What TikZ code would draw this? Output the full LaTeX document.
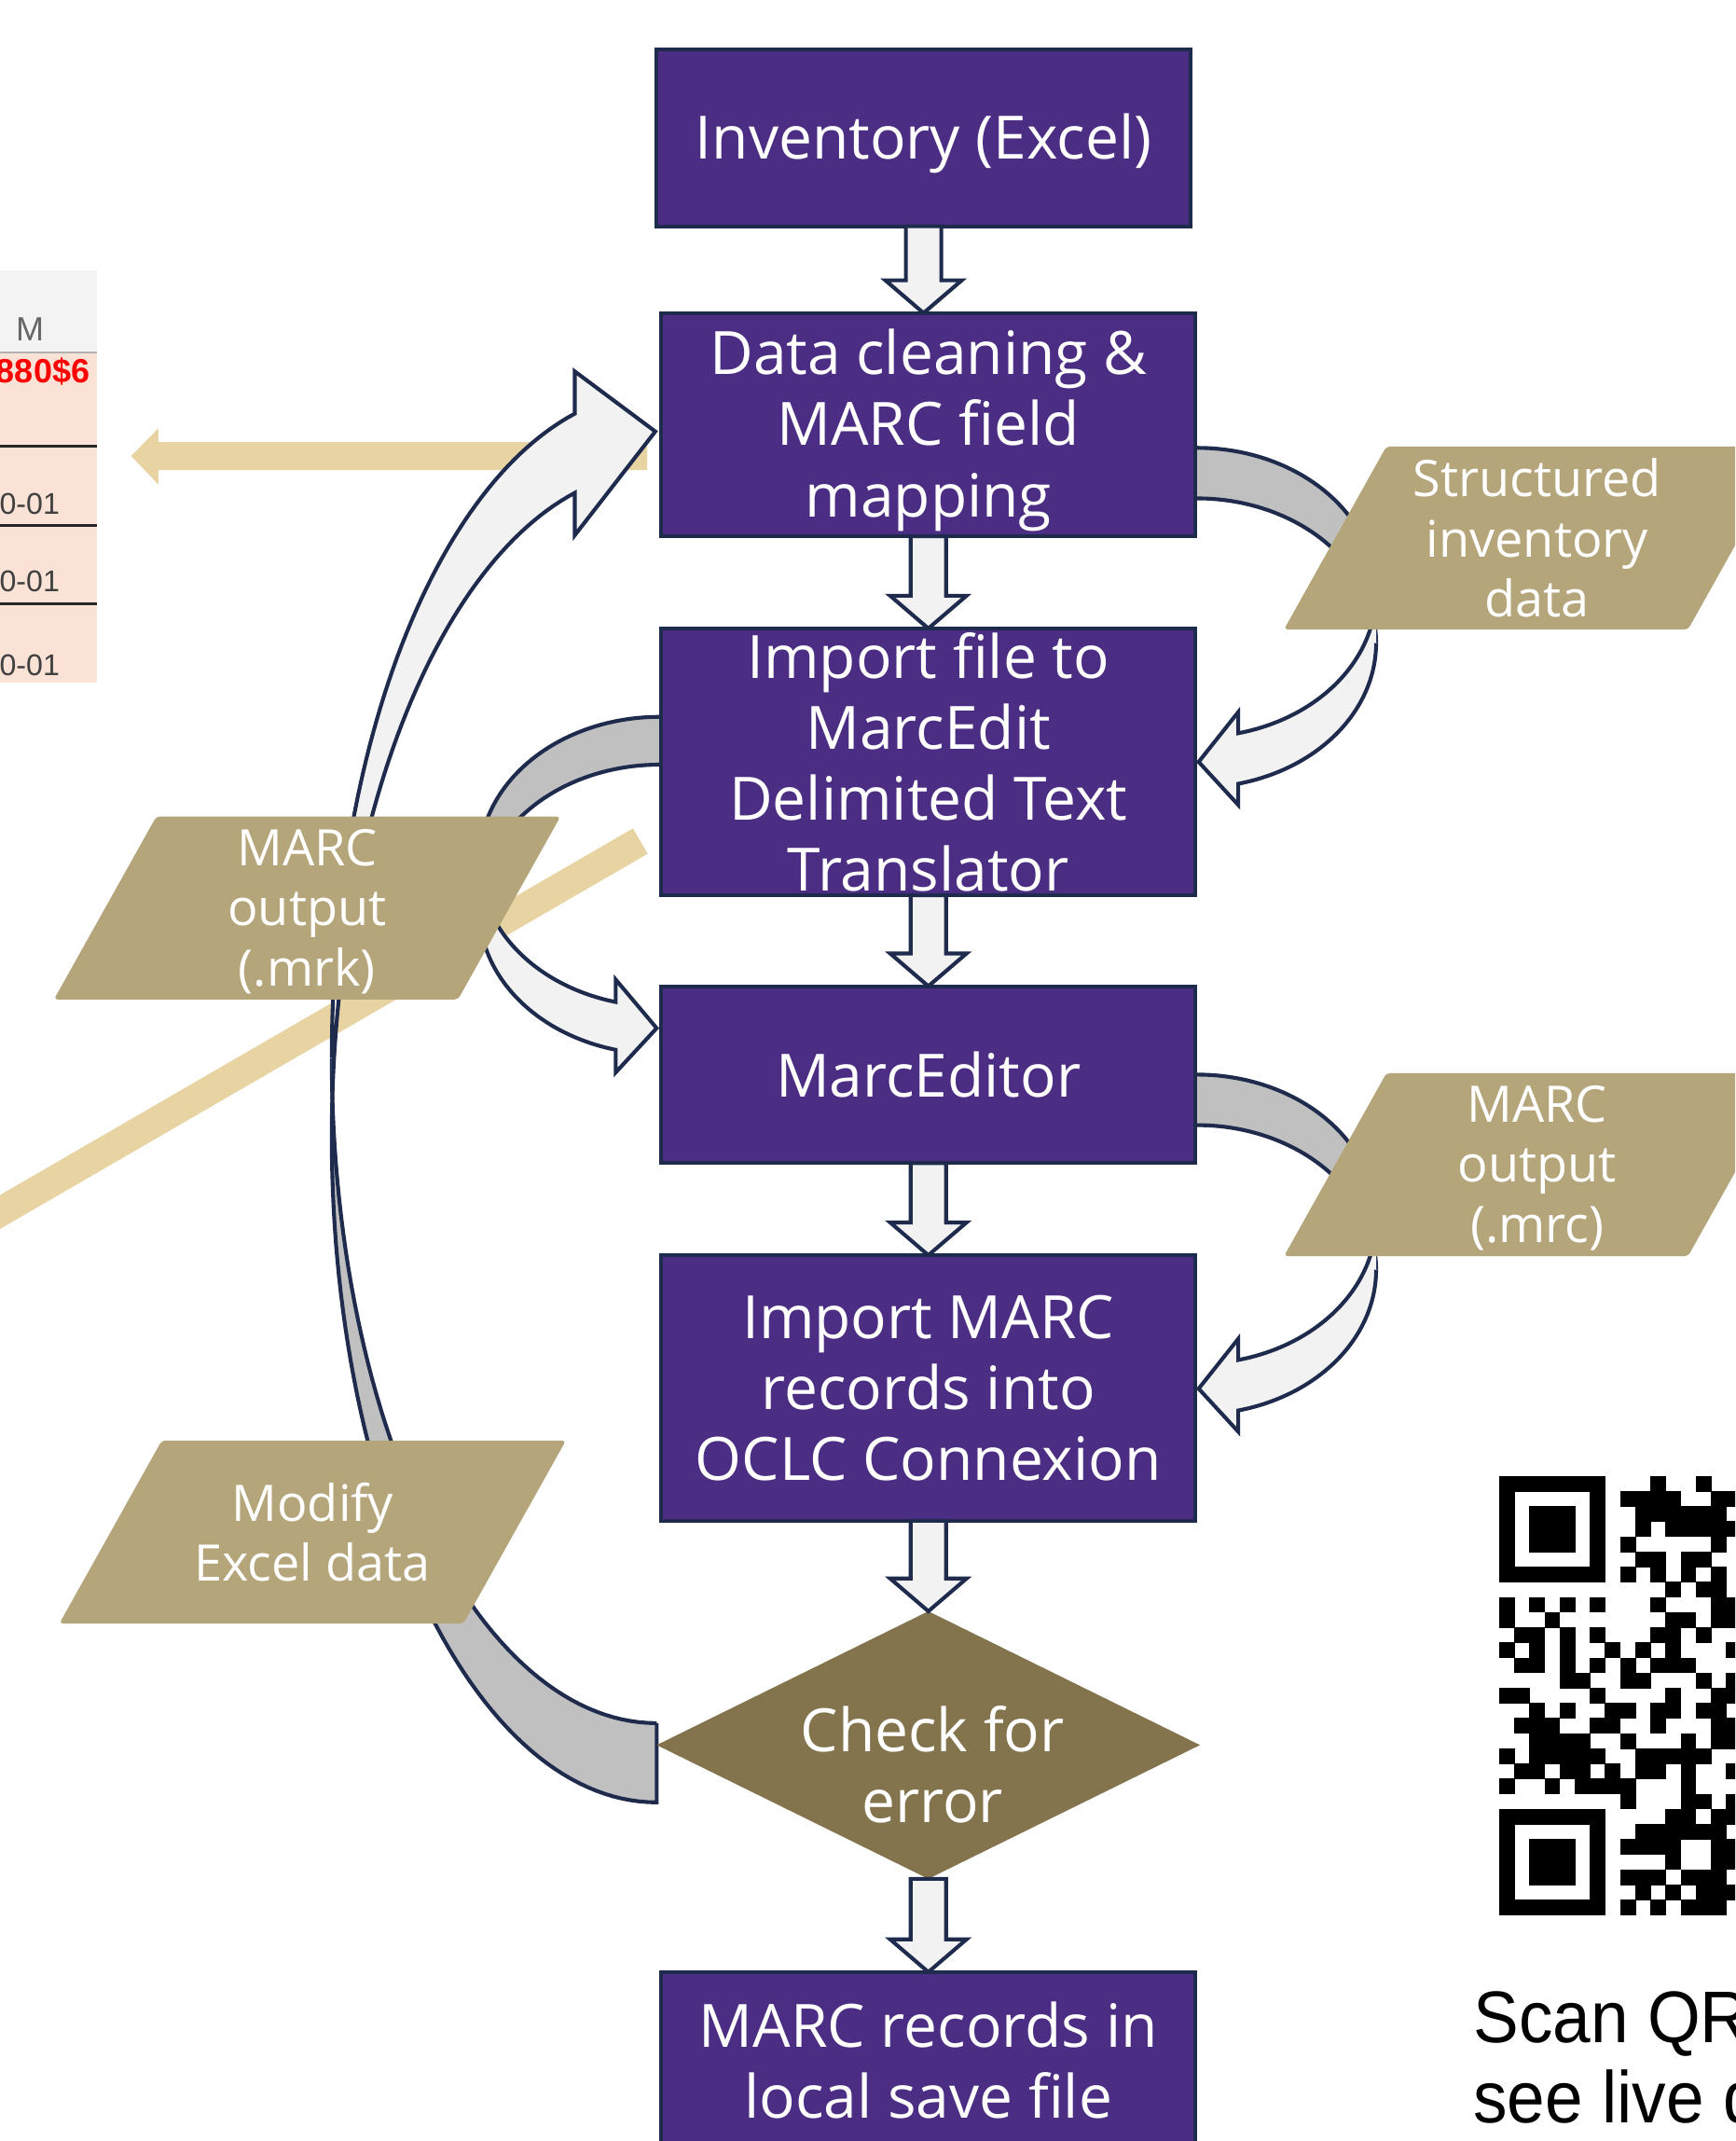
\documentclass[tikz,border=0pt]{standalone}
\usepackage{fontspec}
\setmainfont{Open Sans}
\newfontfamily\arialfont{Liberation Sans}
\usetikzlibrary{calc,shapes.geometric}

\definecolor{uwpurple}{HTML}{4B2E83}
\definecolor{navy}{HTML}{1E2B4D}
\definecolor{gold}{HTML}{B5A57A}
\definecolor{darkgold}{HTML}{84744D}
\definecolor{lighttan}{HTML}{E8D4A2}
\definecolor{arrowfill}{HTML}{F2F2F2}
\definecolor{backfill}{HTML}{C0C0C0}
\definecolor{xlpink}{HTML}{FBE2D6}
\definecolor{xlhead}{HTML}{F3F3F3}

\tikzset{
  box/.style={draw=navy, line width=1.6pt, fill=uwpurple, minimum width=7.83cm, inner sep=0pt, outer sep=0pt},
  boxtext/.style={text=white, font=\fontsize{24.9}{29.6}\selectfont, align=center, inner sep=0pt},
  ptext/.style={text=white, font=\fontsize{21}{25}\selectfont, align=center, inner sep=0pt},
  blockarrow/.style={draw=navy, line width=1.6pt, fill=arrowfill, line join=miter},
  curveline/.style={draw=navy, line width=1.6pt, line join=miter},
  pgram/.style={fill=gold, rounded corners=1.5pt},
  xltext/.style={font=\arialfont\fontsize{12.5}{15}\selectfont, inner sep=0pt},
  captext/.style={font=\arialfont\fontsize{30.5}{33}\selectfont, anchor=base west, inner sep=0pt},
}

% single elliptical arc: cx, cy, rx, ry, start, end
\newcommand{\arcA}[6]{plot[domain=#5:#6,samples=60,variable=\t]({#1+#3*cos(\t)},{#2+#4*sin(\t)})}
% back band between two arcs: cx, yA, rx, ry, start, end, yB
\newcommand{\backpath}[7]{plot[domain=#5:#6,samples=60,variable=\t]({#1+#3*cos(\t)},{#2+#4*sin(\t)}) -- plot[domain=#6:#5,samples=60,variable=\t]({#1+#3*cos(\t)},{#7+#4*sin(\t)}) -- cycle}
% front band with head: cx, yA, rx, ry, start, end, yB, head points
\newcommand{\frontpath}[8]{plot[domain=#5:#6,samples=60,variable=\t]({#1+#3*cos(\t)},{#2+#4*sin(\t)}) #8 -- plot[domain=#6:#5,samples=60,variable=\t]({#1+#3*cos(\t)},{#7+#4*sin(\t)})}

% straight block arrow from bottom of #1 to top of #2
\newcommand{\vblock}[2]{%
  \coordinate (tmpA) at (#1.south);
  \coordinate (tmpB) at (#1.south|-#2.north);
  \draw[blockarrow] ($(tmpA)+(-13,0)$) -- ($(tmpB)+(-13,-24)$) -- ($(tmpB)+(-28,-24)$) -- (tmpB)
     -- ($(tmpB)+(28,-24)$) -- ($(tmpB)+(13,-24)$) -- ($(tmpA)+(13,0)$) -- cycle;
}

% parallelogram around a centre coordinate
\newcommand{\pgramat}[2]{%
  \coordinate (#1c) at #2;
  \fill[pgram] ($(#1c)+(-110.5,-67)$) -- ($(#1c)+(185.5,-67)$) -- ($(#1c)+(110.5,67)$) -- ($(#1c)+(-185.5,67)$) -- cycle;
}

\begin{document}
\begin{tikzpicture}[x=0.02cm,y=-0.02cm]
\useasboundingbox (0,0) rectangle (1271,1568);
\clip (0,0) rectangle (1271,1568);
\fill[white] (0,0) rectangle (1271,1568);

% ---------- spreadsheet fragment ----------
\fill[xlhead] (0,198) rectangle (71,258);
\fill[xlpink] (0,258) rectangle (71,500);
\draw[black!30, line width=0.8pt] (0,258) -- (71,258);
\draw[black!85, line width=1.1pt] (0,327) -- (71,327);
\draw[black!85, line width=1.1pt] (0,385) -- (71,385);
\draw[black!85, line width=1.1pt] (0,442) -- (71,442);
\node[xltext, text=black!60, font=\arialfont\fontsize{14}{16}\selectfont] (xlM) at (22,241) {M};
\node[xltext, text=red, font=\arialfont\bfseries\fontsize{14}{16}\selectfont, anchor=east] (xlA) at (66,272) {880\$6};
\node[xltext, text=black!75, anchor=east] (xlB) at (44,369) {0-01};
\node[xltext, text=black!75, anchor=east] (xlC) at (44,426) {0-01};
\node[xltext, text=black!75, anchor=east] (xlD) at (44,487) {0-01};

% ---------- light tan pointer arrow and bar ----------
\fill[lighttan] (474,323.8) -- (116,323.8) -- (116,313.7) -- (96,334) -- (116,354.8) -- (116,344.3) -- (474,344.3) -- cycle;
\draw[lighttan, line width=0.43cm] (469,616) -- (-30,905);

% ---------- curved arrows ----------
% C1: data cleaning -> structured data -> import file
\fill[backfill] \backpath{877}{433.9}{131}{105.9}{270}{360}{470.9};
\draw[curveline] \arcA{877}{433.9}{131}{105.9}{270}{360};
\draw[curveline] \arcA{877}{470.9}{131}{105.9}{270}{360};
\fill[arrowfill] \frontpath{877}{433.9}{131}{105.9}{0}{76.76}{470.9}{-- (907,521.5) -- (878,558) -- (907,589.5)} -- cycle;
\draw[curveline] \frontpath{877}{433.9}{131}{105.9}{0}{76.76}{470.9}{-- (907,521.5) -- (878,558) -- (907,589.5)};

% C2: marceditor -> .mrc -> import marc records
\fill[backfill] \backpath{877}{892.9}{131}{105.9}{270}{360}{929.9};
\draw[curveline] \arcA{877}{892.9}{131}{105.9}{270}{360};
\draw[curveline] \arcA{877}{929.9}{131}{105.9}{270}{360};
\fill[arrowfill] \frontpath{877}{892.9}{131}{105.9}{0}{76.76}{929.9}{-- (907,980.5) -- (878,1017) -- (907,1048.5)} -- cycle;
\draw[curveline] \frontpath{877}{892.9}{131}{105.9}{0}{76.76}{929.9}{-- (907,980.5) -- (878,1017) -- (907,1048.5)};

% C3: import file -> .mrk -> marceditor
\fill[backfill] \backpath{483}{631}{132}{106}{270}{180}{666};
\draw[curveline] \arcA{483}{631}{132}{106}{270}{180};
\draw[curveline] \arcA{483}{666}{132}{106}{270}{180};
\fill[arrowfill] \frontpath{483}{631}{132}{106}{180}{104.03}{666}{-- (451,717.4) -- (481,753) -- (451,785.4)} -- cycle;
\draw[curveline] \frontpath{483}{631}{132}{106}{180}{104.03}{666}{-- (451,717.4) -- (481,753) -- (451,785.4)};

% C4: check for error -> modify -> data cleaning (big loop)
\fill[backfill] \backpath{481}{774.6}{238}{487.4}{90}{180}{832.6};
\draw[curveline] \arcA{481}{774.6}{238}{487.4}{90}{180};
\draw[curveline] \arcA{481}{832.6}{238}{487.4}{180}{90} -- (481,1262);
\fill[arrowfill] \frontpath{481}{774.6}{238}{487.4}{180}{255.4}{832.6}{-- (421,272) -- (480,316) -- (421,392)} -- cycle;
\draw[curveline] \frontpath{481}{774.6}{238}{487.4}{180}{255.4}{832.6}{-- (421,272) -- (480,316) -- (421,392)};

% ---------- process boxes ----------
\node[box, minimum height=2.59cm] (inv) at (676.5,101) {};
\node[box, minimum height=3.27cm] (dc) at (680,311) {};
\node[box, minimum height=3.91cm] (imp) at (680,558) {};
\node[box, minimum height=2.59cm] (me) at (680,787) {};
\node[box, minimum height=3.89cm] (oclc) at (680,1016.5) {};
\node[diamond, fill=darkgold, minimum width=7.96cm, minimum height=3.92cm, inner sep=0pt, outer sep=0pt] (chk) at (680,1278) {};
\node[box, minimum height=2.59cm] (local) at (680,1509) {};

\node[boxtext] (invt) at ($(inv)+(0,4)$) {Inventory (Excel)};
\node[boxtext] (dct) at ($(dc)+(0,4)$) {Data cleaning \&\\MARC field\\mapping};
\node[boxtext] (impt) at (imp) {Import file to\\MarcEdit\\Delimited Text\\Translator};
\node[boxtext] (met) at (me) {MarcEditor};
\node[boxtext] (oclct) at (oclc) {Import MARC\\records into\\OCLC Connexion};
\node[boxtext] (chkt) at (683,1292) {Check for\\error};
\node[boxtext] (localt) at (local) {MARC records in\\local save file};

% ---------- straight block arrows ----------
\vblock{inv}{dc}
\vblock{dc}{imp}
\vblock{imp}{me}
\vblock{me}{oclc}
\vblock{oclc}{chk}
\vblock{chk}{local}

% ---------- data parallelograms ----------
\pgramat{sid}{(1126,394)}
\node[ptext] (sid) at (sidc) {Structured\\inventory\\data};
\pgramat{mrk}{(225,665)}
\node[ptext] (mrk) at ($(mrkc)+(0,2.5)$) {MARC\\output\\(.mrk)};
\pgramat{mrc}{(1126,853)}
\node[ptext] (mrc) at ($(mrcc)+(0,2.5)$) {MARC\\output\\(.mrc)};
\pgramat{mod}{(229,1122)}
\node[ptext] (mod) at (modc) {Modify\\Excel data};

% ---------- QR code (visible part) ----------
\foreach \r/\cols in {
 0/{0,1,2,3,4,5,6,10,13},
 1/{0,6,8,9,10,11,14,15},
 2/{0,2,3,4,6,9,10,11,12,13,14},
 3/{0,2,3,4,6,9,11,12,13,14,15},
 4/{0,2,3,4,6,8,14},
 5/{0,6,9,10,12,13},
 6/{0,1,2,3,4,5,6,8,10,12,14},
 7/{11,13,14},
 8/{0,2,4,6,10,14,15},
 9/{0,3,11,12,14,15},
 10/{1,2,4,6,10,11,13},
 11/{0,2,4,7,9,11,15},
 12/{1,2,4,6,8,10,11,12},
 13/{4,5,8,9,13,15},
 14/{0,1,6,11,14,15},
 15/{2,4,7,8,10,11,13,14},
 16/{1,2,3,6,7,10,14,15},
 17/{2,3,4,5,8,12,14,15},
 18/{0,2,3,4,5,6,9,10,11,12,13},
 19/{1,2,4,5,7,9,10,12,15},
 20/{0,3,5,6,7,8,12},
 21/{8,12,13,15},
 22/{0,1,2,3,4,5,6,11,12,14,15},
 23/{0,6,9,10,11,12,13,14},
 24/{0,2,3,4,6,8,9,10,11,14,15},
 25/{0,2,3,4,6,11,14,15},
 26/{0,2,3,4,6,8,9,10,12,13,14},
 27/{0,6,9,11,13,14,15},
 28/{0,1,2,3,4,5,6,8,10,12,13,14}}{
  \foreach \c in \cols {
    \fill[black] ({1098.2+\c*11.085-0.2},{1081.1+\r*11.085-0.2}) rectangle ++(11.5,11.5);
  }
}

% ---------- caption ----------
\node[captext] (scan1) at (1079,1496) {\scalebox{0.93}[1]{Scan QR}};
\node[captext] (scan2) at (1079,1555) {\scalebox{0.93}[1]{see live d}};
\end{tikzpicture}
\end{document}
